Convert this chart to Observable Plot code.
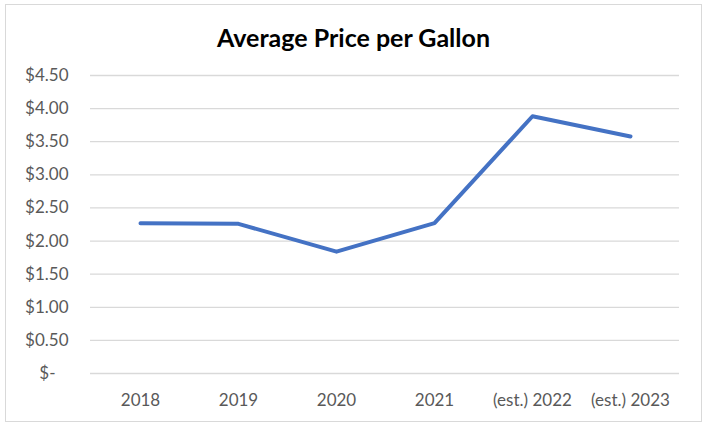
<!DOCTYPE html>
<html>
<head>
<meta charset="utf-8">
<script src="https://cdn.jsdelivr.net/npm/d3@7"></script>
<script src="https://cdn.jsdelivr.net/npm/@observablehq/plot@0.6"></script>
<style>
  html, body { margin: 0; padding: 0; background: #fff; }
  #wrap { position: relative; width: 707px; height: 424px; overflow: hidden; background: #fff; }
  #frame { position: absolute; left: 5px; top: 4px; width: 695px; height: 416px; border: 1px solid #d9d9d9; box-sizing: content-box; }
  #title { position: absolute; left: 0; width: 707px; top: 22px; text-align: center; font-family: Lato, sans-serif; font-weight: bold; font-size: 25px; color: #000; line-height: 30px; }
  #chart { position: absolute; left: 0; top: 55px; }
</style>
</head>
<body>
<div id="wrap">
  <div id="frame"></div>
  <div id="title">Average Price per Gallon</div>
  <div id="chart"></div>
</div>
<script>
const years = ["2018", "2019", "2020", "2021", "(est.) 2022", "(est.) 2023"];
const prices = [2.27, 2.26, 1.84, 2.27, 3.885, 3.58];
const yTicks = [0, 0.5, 1.0, 1.5, 2.0, 2.5, 3.0, 3.5, 4.0, 4.5];

const data = years.map((y, i) => ({year: y, price: prices[i]}));
const fmt = d => d === 0 ? "$-\u00a0\u00a0\u00a0" : "$" + d.toFixed(2);

const chart = Plot.plot({
  width: 707,
  height: 369,
  marginTop: 20,
  marginBottom: 51,
  marginLeft: 90,
  marginRight: 28,
  style: {fontFamily: "Lato, sans-serif", fontSize: "17px", color: "#595959", background: "transparent"},
  x: {type: "point", domain: years, padding: 0.5, label: null},
  y: {domain: [0, 4.5], label: null},
  marks: [
    Plot.ruleY(yTicks, {stroke: "#d9d9d9", strokeWidth: 1.3}),
    Plot.axisY(yTicks, {tickSize: 0, tickPadding: 22, tickFormat: fmt, label: null, fill: "#595959"}),
    Plot.axisX({tickSize: 0, tickPadding: 20, label: null, fill: "#595959"}),
    Plot.line(data, {x: "year", y: "price", stroke: "#4472C4", strokeWidth: 4, strokeLinecap: "round", strokeLinejoin: "round"})
  ]
});
document.getElementById("chart").appendChild(chart);
</script>
</body>
</html>
